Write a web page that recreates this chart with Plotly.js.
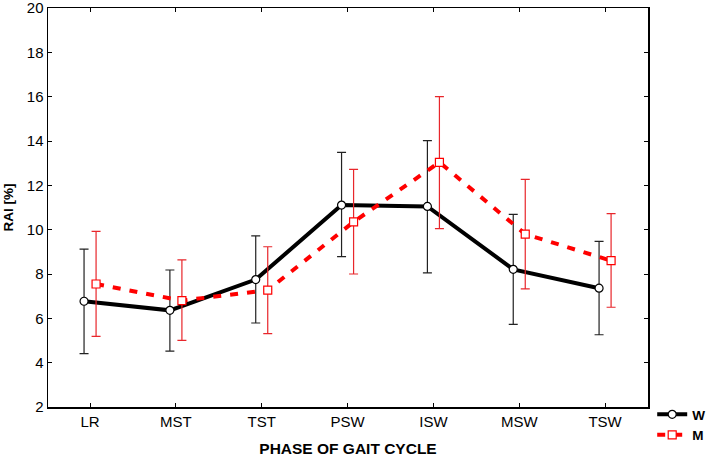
<!DOCTYPE html>
<html>
<head>
<meta charset="utf-8">
<script src="https://cdn.plot.ly/plotly-3.0.1.min.js"></script>
<style>html,body{margin:0;padding:0;background:#fff}#chart{width:706px;height:457px}</style>
</head>
<body>
<div id="chart"></div>
<script>
var phases = ["LR", "MST", "TST", "PSW", "ISW", "MSW", "TSW"];
var wMean  = [6.77, 6.36, 7.75, 11.11, 11.05, 8.21, 7.36];
var wUpper = [9.12, 8.18, 9.72, 13.49, 14.02, 10.69, 9.47];
var wLower = [4.41, 4.52, 5.79, 8.78, 8.05, 5.73, 5.26];
var mMean  = [7.55, 6.80, 7.27, 10.35, 13.04, 9.80, 8.60];
var mUpper = [9.92, 8.64, 9.23, 12.72, 16.00, 12.27, 10.72];
var mLower = [5.19, 5.01, 5.31, 8.00, 10.05, 7.33, 6.50];
var yTicks = [2, 4, 6, 8, 10, 12, 14, 16, 18, 20];

var idx = phases.map(function(_, i){ return i; });
function minus(a, b){ return a.map(function(v, i){ return +(v - b[i]).toFixed(3); }); }

var traceW = {
  x: idx.map(function(i){ return i - 0.07; }),
  y: wMean,
  name: "W",
  type: "scatter",
  mode: "lines+markers",
  line: {color: "#000", width: 4},
  marker: {symbol: "circle", size: 8, color: "#fff", line: {color: "#000", width: 1.2}},
  error_y: {type: "data", symmetric: false, array: minus(wUpper, wMean), arrayminus: minus(wMean, wLower),
            color: "#222", thickness: 1.2, width: 4.5}
};
var traceM = {
  x: idx.map(function(i){ return i + 0.07; }),
  y: mMean,
  name: "M",
  type: "scatter",
  mode: "lines+markers",
  line: {color: "#ff0000", width: 4, dash: "8px,9px"},
  marker: {symbol: "square", size: 8, color: "#fff", line: {color: "#ff0000", width: 1.2}},
  error_y: {type: "data", symmetric: false, array: minus(mUpper, mMean), arrayminus: minus(mMean, mLower),
            color: "#e8262b", thickness: 1.2, width: 4.5}
};

var layout = {
  width: 706, height: 457,
  margin: {l: 48, r: 58, t: 8, b: 50, autoexpand: false},
  paper_bgcolor: "#fff", plot_bgcolor: "#fff",
  font: {family: "Liberation Sans, Arial, sans-serif", color: "#000", size: 15},
  showlegend: true,
  legend: {x: 1.007, y: 0.02, xanchor: "left", yanchor: "top", font: {size: 13.5, weight: "bold"},
           bgcolor: "rgba(0,0,0,0)", tracegroupgap: 0, itemwidth: 30},
  xaxis: {
    range: [-0.49, 6.5],
    automargin: false,
    tickmode: "array", tickvals: idx, ticktext: phases,
    ticks: "inside", ticklen: 4, tickcolor: "#000", tickwidth: 1,
    showline: true, linecolor: "#000", linewidth: 1.5, mirror: "ticks",
    showgrid: false, zeroline: false,
    tickfont: {size: 15}, ticklabeloverflow: "allow",
    title: {text: "PHASE OF GAIT CYCLE", font: {size: 15.5, weight: "bold"}, standoff: 18}
  },
  yaxis: {
    range: [2, 20],
    automargin: false,
    tickmode: "array", tickvals: yTicks,
    ticks: "inside", ticklen: 4, tickcolor: "#000", tickwidth: 1,
    showline: true, linecolor: "#000", linewidth: 1.5, mirror: "ticks",
    showgrid: false, zeroline: false,
    tickfont: {size: 15}, ticklabeloverflow: "allow",
    title: {text: "RAI [%]", font: {size: 13.5, weight: "bold"}, standoff: 10}
  }
};

Plotly.newPlot("chart", [traceW, traceM], layout, {displayModeBar: false, staticPlot: true});
</script>
</body>
</html>
